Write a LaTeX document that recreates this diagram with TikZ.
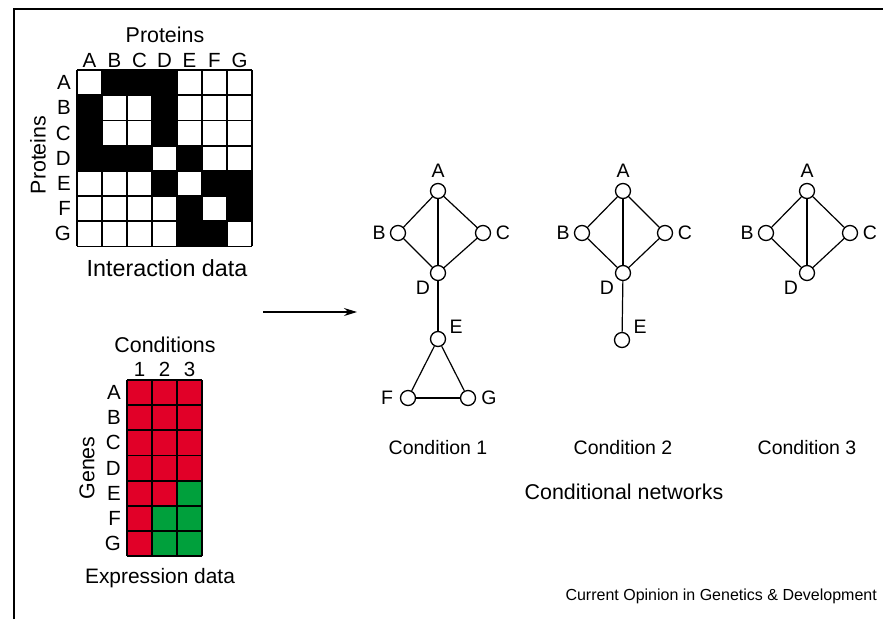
\documentclass[tikz,border=0pt]{standalone}
\usepackage{fontspec}
\setmainfont{Liberation Sans}
\usetikzlibrary{arrows.meta}
\definecolor{expred}{RGB}{225,0,40}
\definecolor{expgreen}{RGB}{0,160,60}
\begin{document}
\begin{tikzpicture}[x=1pt,y=-1pt,
  lab/.style={inner sep=0pt,font=\fontsize{19.5}{22}\selectfont},
  mlab/.style={inner sep=0pt,font=\fontsize{20.5}{23}\selectfont},
  big/.style={inner sep=0pt,font=\fontsize{21.4}{24}\selectfont},
  small/.style={inner sep=0pt,font=\fontsize{16}{18}\selectfont},
  vert/.style={circle,draw,fill=white,line width=1.3pt,minimum size=15pt,inner sep=0pt},
  edge/.style={line width=1.2pt},
  grid/.style={line width=1.8pt}]
\useasboundingbox (0,0) rectangle (883,619);
% frame
\draw[line width=2pt] (13.5,619) -- (13.5,9) -- (883,9);

% ---------------- interaction matrix ----------------
\def\cw{25}\def\ch{25.2}
\def\xo{77}\def\yo{70}
\foreach \r/\c in {0/1,0/2,0/3,1/0,1/3,2/0,2/3,3/0,3/1,3/2,3/4,4/3,4/5,4/6,5/4,5/6,6/4,6/5}{
  \fill (\xo+\c*\cw,\yo+\r*\ch) rectangle ++(\cw,\ch);
}
\foreach \i in {0,...,7}{
  \draw[grid] (\xo+\i*\cw,\yo) -- (\xo+\i*\cw,\yo+7*\ch);
  \draw[grid] (\xo,\yo+\i*\ch) -- (\xo+7*\cw,\yo+\i*\ch);
}
\node[big] (pt) at (165,35) {Proteins};
\foreach \l [count=\k from 0] in {A,B,C,D,E,F,G}{
  \node[mlab] (ic\l) at (\xo+\k*\cw+12.5,60) {\l};
  \node[mlab,anchor=east] (ir\l) at (71,\yo+\k*\ch+12.6) {\l};
}
\node[big,rotate=90] (pl) at (38,155) {Proteins};
\node[inner sep=0pt,font=\fontsize{23.3}{26}\selectfont] (idt) at (167,268) {Interaction data};

% ---------------- expression matrix ----------------
\def\ex{127}\def\ey{380}\def\eh{25.15}
\foreach \r/\c/\col in {0/0/expred,0/1/expred,0/2/expred,
  1/0/expred,1/1/expred,1/2/expred,
  2/0/expred,2/1/expred,2/2/expred,
  3/0/expred,3/1/expred,3/2/expred,
  4/0/expred,4/1/expred,4/2/expgreen,
  5/0/expred,5/1/expgreen,5/2/expgreen,
  6/0/expred,6/1/expgreen,6/2/expgreen}{
  \fill[\col] (\ex+\c*25,\ey+\r*\eh) rectangle ++(25,\eh);
}
\foreach \i in {0,...,3}{\draw[grid] (\ex+\i*25,\ey) -- (\ex+\i*25,\ey+7*\eh);}
\foreach \i in {0,...,7}{\draw[grid] (\ex,\ey+\i*\eh) -- (\ex+75,\ey+\i*\eh);}
\node[big] (cond) at (165,345) {Conditions};
\foreach \l [count=\k from 0] in {1,2,3}{
  \node[mlab] (ec\l) at (\ex+\k*25+12.5,369) {\l};
}
\foreach \l [count=\k from 0] in {A,B,C,D,E,F,G}{
  \node[mlab,anchor=east] (er\l) at (121,\ey+\k*\eh+12.6) {\l};
}
\node[big,rotate=90] (gn) at (87,468) {Genes};
\node[inner sep=0pt,font=\fontsize{20.9}{24}\selectfont] (edt) at (160,578) {Expression data};

% ---------------- arrow ----------------
\coordinate (as) at (263,312);
\coordinate (ae) at (357,312);
\draw[line width=1.3pt,-{Stealth[length=13pt,width=8pt]}] (as) -- (ae);

% ---------------- network 1 ----------------
\node[vert] (aA) at (438,191) {};
\node[vert] (aB) at (398,233) {};
\node[vert] (aC) at (483,233) {};
\node[vert] (aD) at (438,273) {};
\node[vert] (aE) at (438,339) {};
\node[vert] (aF) at (408,398) {};
\node[vert] (aG) at (468,398) {};
\draw[edge] (aA) -- (aB); \draw[edge] (aA) -- (aC); \draw[edge] (aA) -- (aD);
\draw[edge] (aB) -- (aD); \draw[edge] (aC) -- (aD); \draw[edge] (aD) -- (aE);
\draw[edge] (aE) -- (aF); \draw[edge] (aE) -- (aG); \draw[edge] (aF) -- (aG);
\node[lab] (laA) at (438,171) {A};
\node[lab] (laB) at (379,233) {B};
\node[lab] (laC) at (503,233) {C};
\node[lab] (laD) at (423,288) {D};
\node[lab] (laE) at (456,327) {E};
\node[lab] (laF) at (387,398) {F};
\node[lab] (laG) at (489,398) {G};

% ---------------- network 2 ----------------
\node[vert] (bA) at (623,191) {};
\node[vert] (bB) at (582,233) {};
\node[vert] (bC) at (665,233) {};
\node[vert] (bD) at (623,273) {};
\node[vert] (bE) at (622,340) {};
\draw[edge] (bA) -- (bB); \draw[edge] (bA) -- (bC); \draw[edge] (bA) -- (bD);
\draw[edge] (bB) -- (bD); \draw[edge] (bC) -- (bD); \draw[edge] (bD) -- (bE);
\node[lab] (lbA) at (623,171) {A};
\node[lab] (lbB) at (563,233) {B};
\node[lab] (lbC) at (685,233) {C};
\node[lab] (lbD) at (607,288) {D};
\node[lab] (lbE) at (640,327) {E};

% ---------------- network 3 ----------------
\node[vert] (cA) at (807,191) {};
\node[vert] (cB) at (766,233) {};
\node[vert] (cC) at (850,233) {};
\node[vert] (cD) at (807,273) {};
\draw[edge] (cA) -- (cB); \draw[edge] (cA) -- (cC); \draw[edge] (cA) -- (cD);
\draw[edge] (cB) -- (cD); \draw[edge] (cC) -- (cD);
\node[lab] (lcA) at (807,171) {A};
\node[lab] (lcB) at (747,233) {B};
\node[lab] (lcC) at (870,233) {C};
\node[lab] (lcD) at (791,288) {D};

% ---------------- captions ----------------
\node[lab] (c1) at (438,448) {Condition 1};
\node[lab] (c2) at (623,448) {Condition 2};
\node[lab] (c3) at (807,448) {Condition 3};
\node[big] (cn) at (624,492) {Conditional networks};
\node[small,anchor=east] (src) at (877,596) {Current Opinion in Genetics \& Development};
\end{tikzpicture}
\end{document}
